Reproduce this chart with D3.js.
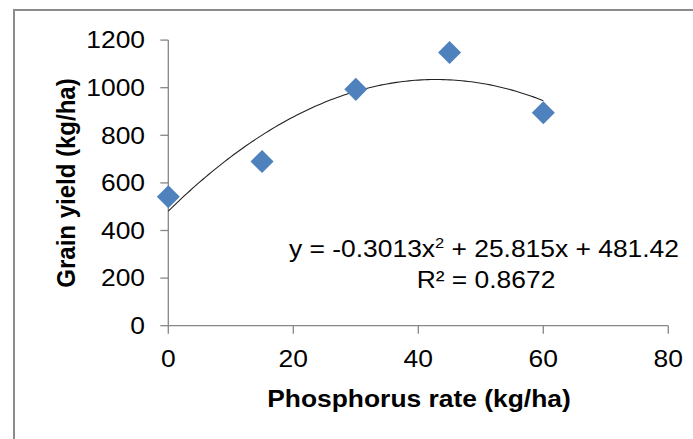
<!DOCTYPE html>
<html><head><meta charset="utf-8">
<script src="https://cdn.jsdelivr.net/npm/d3@7"></script>
<style>
html,body{margin:0;padding:0;background:#fff;}
svg{display:block;}
text{font-family:"Liberation Sans",Arial,sans-serif;fill:#000;}
</style></head>
<body>
<svg id="chart" width="693" height="439"></svg>
<script>
const phosphorusRate = [0, 15, 30, 45, 60];
const grainYield = [542, 690, 993, 1148, 895];
const yTicks = [0, 200, 400, 600, 800, 1000, 1200];
const xTicks = [0, 20, 40, 60, 80];
const fitCoef = [-0.3013, 25.815, 481.42];
const xTitle = "Phosphorus rate (kg/ha)";
const yTitle = "Grain yield (kg/ha)";
const r2Text = "R² = 0.8672";

const svg = d3.select("#chart");
const SX = 1.1; // horizontal stretch of the original picture's text
const x = d3.scaleLinear().domain([0, 80]).range([168.3, 668.3]);
const y = d3.scaleLinear().domain([0, 1200]).range([325.7, 40.1]);

// outer chart border
svg.append("rect").attr("x", 14).attr("y", 10).attr("width", 700).attr("height", 460)
  .attr("fill", "none").attr("stroke", "#8c8c8c").attr("stroke-width", 2);

const axisColor = "#868686";
// y axis
const gy = svg.append("g");
gy.append("line").attr("x1", x(0)).attr("x2", x(0)).attr("y1", y(0)).attr("y2", y(1200))
  .attr("stroke", axisColor).attr("stroke-width", 1.3);
yTicks.forEach(t => {
  gy.append("line").attr("x1", x(0) - 8).attr("x2", x(0)).attr("y1", y(t)).attr("y2", y(t))
    .attr("stroke", axisColor).attr("stroke-width", 1.3);
  gy.append("g").attr("transform", `translate(145,${y(t) + 8.3}) scale(${SX},1)`)
    .append("text").attr("text-anchor", "end").attr("font-size", 24).text(t);
});
// x axis
const gx = svg.append("g");
gx.append("line").attr("x1", x(0)).attr("x2", x(80)).attr("y1", y(0)).attr("y2", y(0))
  .attr("stroke", axisColor).attr("stroke-width", 1.3);
xTicks.forEach(t => {
  gx.append("line").attr("x1", x(t)).attr("x2", x(t)).attr("y1", y(0)).attr("y2", y(0) + 8)
    .attr("stroke", axisColor).attr("stroke-width", 1.3);
  gx.append("g").attr("transform", `translate(${x(t)},366.5) scale(${SX},1)`)
    .append("text").attr("text-anchor", "middle").attr("font-size", 24).text(t);
});

// trendline
const fx = d3.range(0, 60.01, 0.5);
const line = d3.line().x(d => x(d)).y(d => y(fitCoef[0] * d * d + fitCoef[1] * d + fitCoef[2]));
svg.append("path").datum(fx).attr("d", line).attr("fill", "none")
  .attr("stroke", "#222").attr("stroke-width", 1.1);

// points
const sym = d3.symbol().type(d3.symbolSquare).size(265);
svg.selectAll(".pt").data(phosphorusRate).join("path").attr("class", "pt")
  .attr("d", sym)
  .attr("transform", (d, i) => `translate(${x(d)},${y(grainYield[i])}) rotate(45)`)
  .attr("fill", "#4F81BD");

// equation text
const eq = svg.append("g").attr("transform", `translate(484,257) scale(${SX},1)`)
  .append("text").attr("text-anchor", "middle").attr("font-size", 24);
eq.append("tspan").text("y = -0.3013x");
eq.append("tspan").attr("font-size", 15).attr("dy", -9).text("2");
eq.append("tspan").attr("dy", 9).text(" + 25.815x + 481.42");
svg.append("g").attr("transform", `translate(486,288) scale(${SX},1)`)
  .append("text").attr("text-anchor", "middle").attr("font-size", 24).text(r2Text);

// axis titles
svg.append("g").attr("transform", `translate(419,406.5) scale(${SX},1)`)
  .append("text").attr("text-anchor", "middle").attr("font-size", 24).attr("font-weight", "bold").text(xTitle);
svg.append("g").attr("transform", `translate(75,183) rotate(-90) scale(1,${SX})`)
  .append("text").attr("text-anchor", "middle").attr("font-size", 24).attr("font-weight", "bold").text(yTitle);
</script>
</body></html>
